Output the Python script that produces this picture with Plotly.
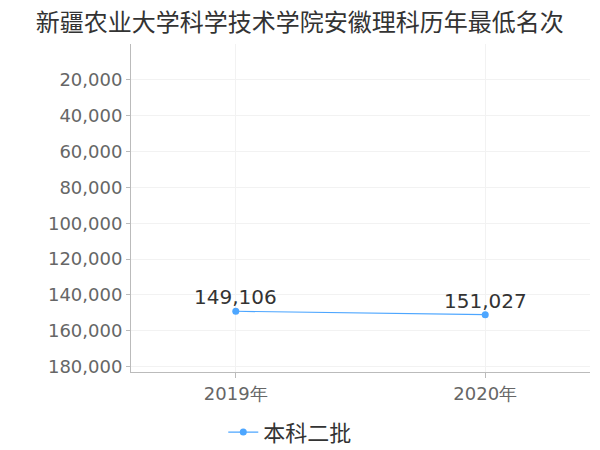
import plotly.graph_objects as go

years = ["2019年", "2020年"]
ranks = [149106, 151027]
series_name = "本科二批"
title = "新疆农业大学科学技术学院安徽理科历年最低名次"
y_ticks = [20000, 40000, 60000, 80000, 100000, 120000, 140000, 160000, 180000]

num_font = "DejaVu Sans, sans-serif"

fig = go.Figure()
fig.add_trace(go.Scatter(
    x=years, y=ranks, name=series_name, mode="lines+markers",
    line=dict(color="#4da6ff", width=1.2),
    marker=dict(color="#4da6ff", size=7),
    cliponaxis=False,
))
for yr, v in zip(years, ranks):
    fig.add_annotation(x=yr, y=v, text=f"{v:,}", showarrow=False, yanchor="bottom",
                       xanchor="center", yshift=0,
                       font=dict(size=20, color="#333333", family=num_font))
fig.update_layout(
    width=592, height=442,
    margin=dict(l=123, r=10, t=36, b=78),
    paper_bgcolor="white", plot_bgcolor="white",
    font=dict(family="Noto Sans CJK SC, sans-serif"),
    title=dict(text=title, x=0.493, xref="container", xanchor="center", y=0.987, yanchor="top",
               font=dict(size=24, color="#333333")),
    showlegend=True,
    legend=dict(orientation="h", x=0.347, xanchor="center", yref="container", y=0.04, yanchor="middle",
                font=dict(size=22, color="#333333")),
    xaxis=dict(type="category", range=[-0.42, 1.42], showgrid=True, gridcolor="#f2f2f2",
               showline=True, linecolor="#bbbbbb", ticks="outside", ticklen=5, tickcolor="#bbbbbb",
               tickfont=dict(size=18, color="#666666", family=num_font), zeroline=False, automargin=False,
               tickangle=0),
    yaxis=dict(range=[183000, 0], tickvals=y_ticks, tickformat=",", showgrid=True, gridcolor="#f2f2f2",
               showline=True, linecolor="#bbbbbb", ticks="outside", ticklen=4, tickcolor="#bbbbbb",
               tickfont=dict(size=18, color="#666666", family=num_font), zeroline=False, automargin=False),
)
fig.write_html("out.html")
